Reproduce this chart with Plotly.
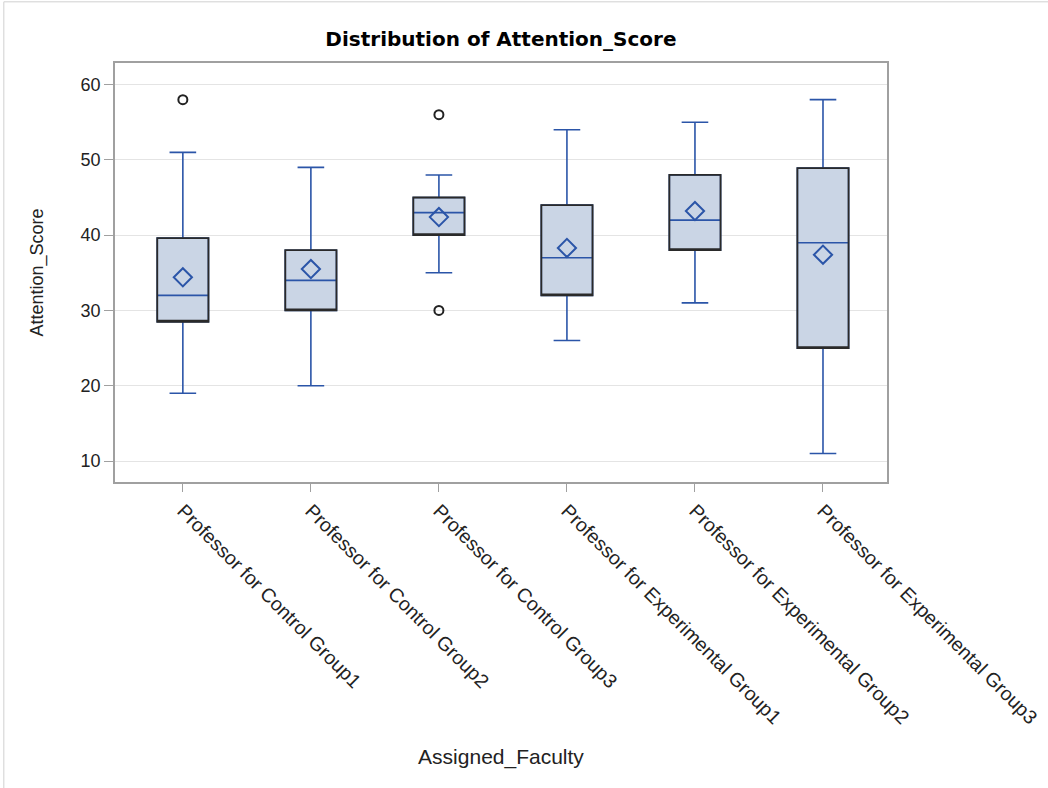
import plotly.graph_objects as go

# Summary statistics of Attention_Score per assigned faculty
faculty = [
    "Professor for Control Group1",
    "Professor for Control Group2",
    "Professor for Control Group3",
    "Professor for Experimental Group1",
    "Professor for Experimental Group2",
    "Professor for Experimental Group3",
]
whisker_low = [19, 20, 35, 26, 31, 11]
q1 = [28.5, 30, 40, 32, 38, 25]
median = [32, 34, 43, 37, 42, 39]
q3 = [39.6, 38, 45, 44, 48, 48.9]
whisker_high = [51, 49, 48, 54, 55, 58]
mean = [34.4, 35.5, 42.4, 38.3, 43.2, 37.4]

# Outlying observations
outlier_faculty = [
    "Professor for Control Group1",
    "Professor for Control Group3",
    "Professor for Control Group3",
]
outlier_score = [58, 56, 30]

FILL = "#CAD5E5"
BLUE = "#2B55A8"
EDGE = "#2a2a2a"
FONT = "Liberation Sans, Arial, sans-serif"

fig = go.Figure()

# Box body, median line and whiskers
fig.add_trace(go.Box(
    x=faculty,
    q1=q1, median=median, q3=q3,
    lowerfence=whisker_low, upperfence=whisker_high,
    fillcolor=FILL,
    line=dict(color=BLUE, width=1.6),
    whiskerwidth=0.52,
    width=0.4,
    boxpoints=False,
    hoverinfo="skip",
    showlegend=False,
))

# Dark outline of each box (interquartile range only)
fig.add_trace(go.Box(
    x=faculty,
    q1=q1, median=q1, q3=q3,
    lowerfence=q1, upperfence=q3,
    fillcolor="rgba(0,0,0,0)",
    line=dict(color=EDGE, width=1.8),
    whiskerwidth=0,
    width=0.4,
    boxpoints=False,
    hoverinfo="skip",
    showlegend=False,
))

# Means
fig.add_trace(go.Scatter(
    x=faculty, y=mean, mode="markers",
    marker=dict(symbol="diamond-open", size=14, color=BLUE,
                line=dict(color=BLUE, width=2)),
    showlegend=False,
))

# Outliers
fig.add_trace(go.Scatter(
    x=outlier_faculty, y=outlier_score, mode="markers",
    marker=dict(symbol="circle-open", size=9, color="#222222",
                line=dict(color="#222222", width=2)),
    showlegend=False,
))

fig.update_layout(
    width=1048, height=788,
    margin=dict(l=115, r=161, t=63, b=306),
    paper_bgcolor="white",
    plot_bgcolor="white",
    boxmode="overlay",
    font=dict(family=FONT, size=15, color="#222222"),
    title=dict(
        text="<b>Distribution of Attention_Score</b>",
        x=0.478, xanchor="center", y=0.95, yanchor="middle",
        font=dict(family="DejaVu Sans, sans-serif", size=20, color="#000000"),
    ),
    shapes=[dict(
        type="rect", xref="paper", yref="paper",
        x0=-0.144, x1=1.25, y0=-0.85, y1=1.146,
        line=dict(color="#d0d0d0", width=1),
    )],
)

fig.update_xaxes(
    type="category",
    categoryorder="array", categoryarray=faculty,
    range=[-0.53, 5.5],
    automargin=False,
    tickangle=45,
    tickfont=dict(size=19.5, color="#222222"),
    ticks="outside", ticklen=8, tickcolor="#a0a0a0",
    showline=True, linecolor="#a0a0a0", linewidth=1.5, mirror=True,
    showgrid=False,
    title=dict(text="Assigned_Faculty", font=dict(size=21, color="#222222"), standoff=22),
)

fig.update_yaxes(
    range=[7.21, 62.87],
    automargin=False,
    tickvals=[10, 20, 30, 40, 50, 60],
    tickfont=dict(size=18, color="#222222"),
    ticks="outside", ticklen=9, tickcolor="#a0a0a0",
    showline=True, linecolor="#a0a0a0", linewidth=1.5, mirror=True,
    showgrid=True, gridcolor="#e4e4e4", gridwidth=1.2,
    zeroline=False,
    title=dict(text="Attention_Score", font=dict(size=18, color="#222222"), standoff=32),
)

fig.write_html("out.html")
